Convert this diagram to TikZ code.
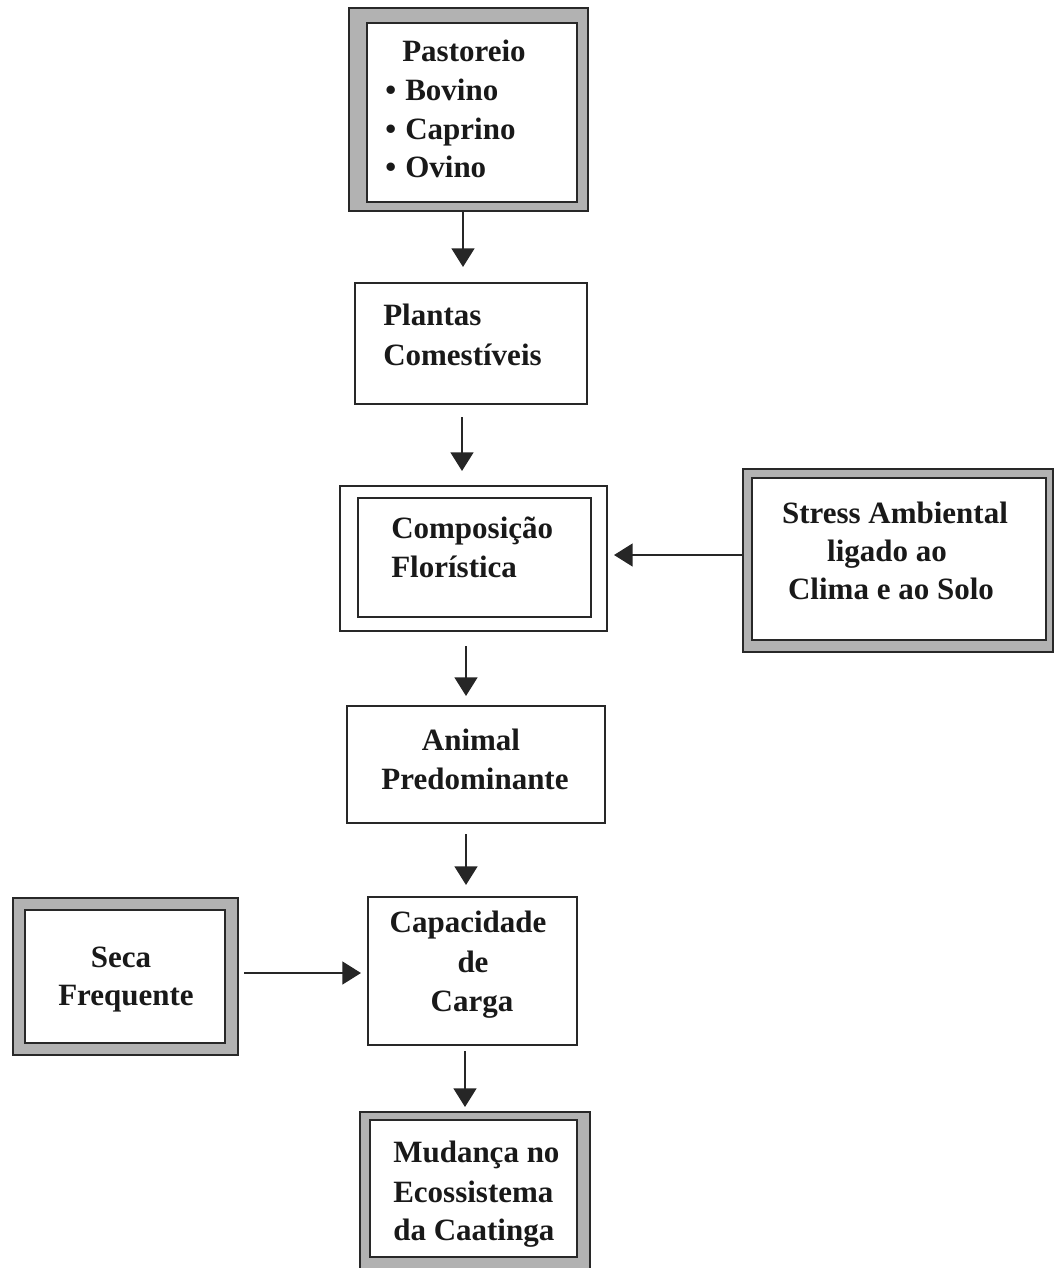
\documentclass[tikz,border=0pt]{standalone}
\usepackage{fontspec}
\setmainfont{Liberation Serif}
\usetikzlibrary{arrows.meta,fit}
\definecolor{framegrey}{RGB}{178,178,178}
\definecolor{edgecol}{RGB}{40,40,40}
\begin{document}
\begin{tikzpicture}[x=0.75pt,y=-0.75pt,
  plainbox/.style={draw=edgecol, line width=1.5pt, fill=white, inner sep=0pt},
  greyframe/.style={draw=edgecol, line width=1.5pt, fill=framegrey, inner sep=0pt},
  lbl/.style={font=\fontsize{23.25pt}{29pt}\selectfont\bfseries, inner sep=0pt, text=black!90},
  arr/.style={draw=black!85, line width=2pt, -{Triangle[length=14pt,width=17pt]}}]
\useasboundingbox (0,0) rectangle (1055,1268);
\clip (0,0) rectangle (1055,1268);
\fill[white] (0,0) rectangle (1055,1268);

% Pastoreio
\node[greyframe, fit={(349,8) (588,211)}] (b1o) {};
\node[plainbox, fit={(367,23) (577,202)}] (b1) {};
\node[lbl, anchor=base west] (t1a) at (402,61) {Pastoreio};
\node[lbl, anchor=base west] (t1b) at (385,100) {\makebox[15pt][l]{•}Bovino};
\node[lbl, anchor=base west] (t1c) at (385,139) {\makebox[15pt][l]{•}Caprino};
\node[lbl, anchor=base west] (t1d) at (385,177) {\makebox[15pt][l]{•}Ovino};

% Plantas
\node[plainbox, fit={(355,283) (587,404)}] (b2) {};
\node[lbl, anchor=base west] (t2a) at (383,325) {Plantas};
\node[lbl, anchor=base west] (t2b) at (383,365) {Comestíveis};

% Composicao
\node[plainbox, fit={(340,486) (607,631)}] (b3o) {};
\node[plainbox, fit={(358,498) (591,617)}] (b3) {};
\node[lbl, anchor=base west] (t3a) at (391,538) {Composição};
\node[lbl, anchor=base west] (t3b) at (391,577) {Florística};

% Stress
\node[greyframe, fit={(743,469) (1053,652)}] (b4o) {};
\node[plainbox, fit={(752,478) (1046,640)}] (b4) {};
\node[lbl, anchor=base] (t4a) at (895,523) {Stress Ambiental};
\node[lbl, anchor=base] (t4b) at (887,561) {ligado ao};
\node[lbl, anchor=base] (t4c) at (891,599) {Clima e ao Solo};

% Animal
\node[plainbox, fit={(347,706) (605,823)}] (b5) {};
\node[lbl, anchor=base] (t5a) at (471,750) {Animal};
\node[lbl, anchor=base] (t5b) at (475,789) {Predominante};

% Capacidade
\node[plainbox, fit={(368,897) (577,1045)}] (b6) {};
\node[lbl, anchor=base] (t6a) at (468,932) {Capacidade};
\node[lbl, anchor=base] (t6b) at (473,972) {de};
\node[lbl, anchor=base] (t6c) at (472,1011) {Carga};

% Seca
\node[greyframe, fit={(13,898) (238,1055)}] (b7o) {};
\node[plainbox, fit={(25,910) (225,1043)}] (b7) {};
\node[lbl, anchor=base] (t7a) at (121,967) {Seca};
\node[lbl, anchor=base] (t7b) at (126,1005) {Frequente};

% Mudanca
\node[greyframe, fit={(360,1112) (590,1290)}] (b8o) {};
\node[plainbox, fit={(370,1120) (577,1257)}] (b8) {};
\node[lbl, anchor=base west] (t8a) at (393,1162) {Mudança no};
\node[lbl, anchor=base west] (t8b) at (393,1202) {Ecossistema};
\node[lbl, anchor=base west] (t8c) at (393,1240) {da Caatinga};

% arrows
\draw[arr, shorten >=11.25pt] ([xshift=-4.125pt]b1o.south) -- ([xshift=-6pt]b2.north);
\draw[arr, shorten <=9pt, shorten >=10.5pt] ([xshift=-6.75pt]b2.south) -- ([xshift=-8.625pt]b3o.north);
\draw[arr, shorten <=10.5pt, shorten >=6.75pt] ([xshift=-5.625pt]b3o.south) -- ([xshift=-7.5pt]b5.north);
\draw[arr, shorten <=7.5pt, shorten >=8.25pt] ([xshift=-7.5pt]b5.south) -- ([xshift=-4.875pt]b6.north);
\draw[arr, shorten <=3.75pt, shorten >=3pt] ([xshift=-5.625pt]b6.south) -- ([xshift=-7.5pt]b8o.north);
\draw[arr, shorten >=4.5pt] ([yshift=4.125pt]b4o.west) -- ([yshift=2.625pt]b3o.east);
\draw[arr, shorten <=3.75pt, shorten >=4.5pt] ([yshift=2.625pt]b7o.east) -- ([yshift=-1.5pt]b6.west);
\end{tikzpicture}
\end{document}
